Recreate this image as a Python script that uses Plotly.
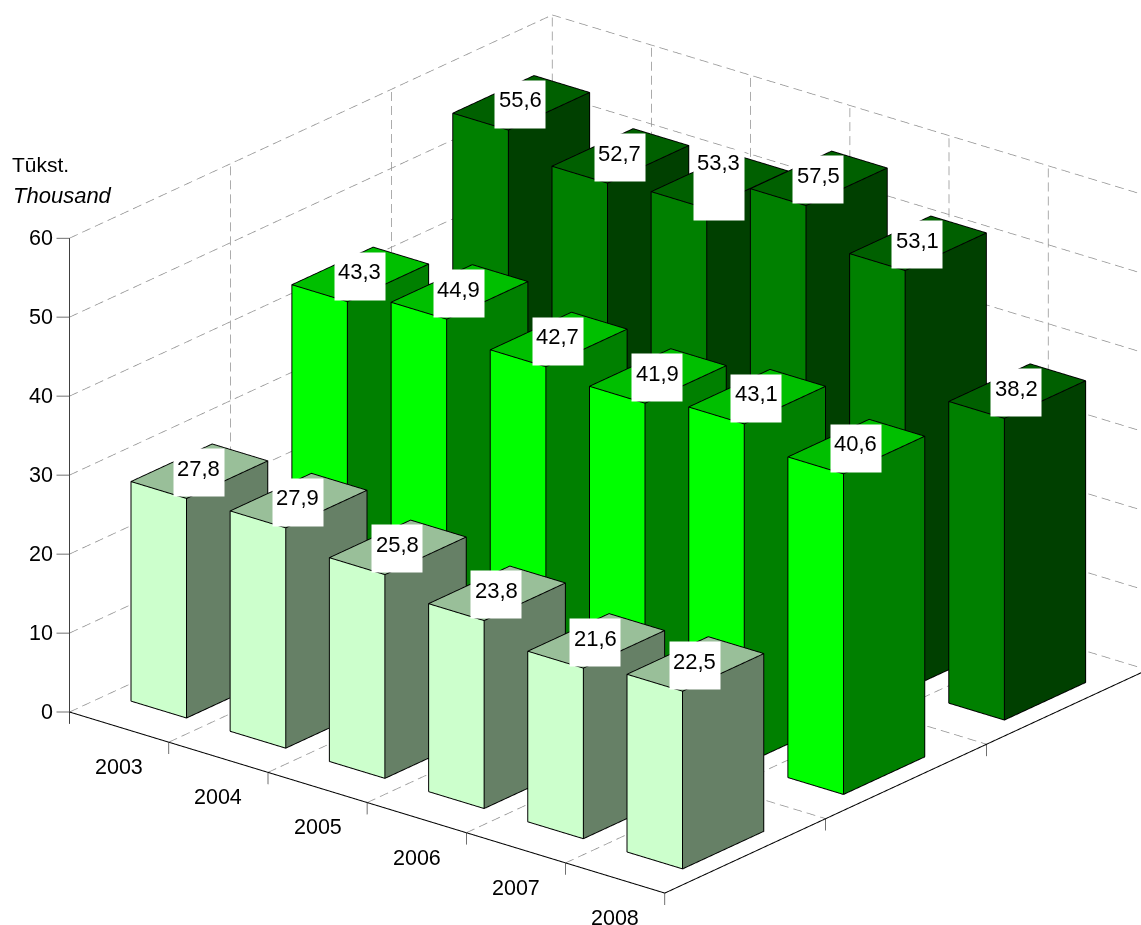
import math
import plotly.graph_objects as go

YEARS = ["2003", "2004", "2005", "2006", "2007", "2008"]
LIGHT = [27.8, 27.9, 25.8, 23.8, 21.6, 22.5]
BRIGHT = [43.3, 44.9, 42.7, 41.9, 43.1, 40.6]
DARK = [55.6, 52.7, 53.3, 57.5, 53.1, 38.2]
Y_TICKS = [0, 10, 20, 30, 40, 50, 60]

SERIES = [LIGHT, BRIGHT, DARK]
FACE_COLORS = [("#CCFFCC", "#668066", "#99BF99"),
               ("#00FF00", "#008000", "#00BF00"),
               ("#008000", "#004000", "#006000")]
W, H = 1141, 925
AZ = math.radians(39.04)
EL = math.radians(22.03)
K = 1.657
PX = 766.0/K       # pixels per scene unit
R = 1.5
EPS = 0.0025

dirv = (math.cos(EL)*math.sin(AZ), -math.cos(EL)*math.cos(AZ), math.sin(EL))
rgt = (math.cos(AZ), math.sin(AZ), 0)
upv = (-math.sin(EL)*math.sin(AZ), math.sin(EL)*math.cos(AZ), math.cos(EL))
SX, SY, SZ = K/6, K/3, K*0.667/60  # scene units per data unit

fig = go.Figure()

def line(xs, ys, zs, color, width):
    fig.add_trace(go.Scatter3d(x=xs, y=ys, z=zs, mode="lines", hoverinfo="skip",
                               line=dict(color=color, width=width)))

def screen_len(a, b):
    d = ((b[0]-a[0])*SX, (b[1]-a[1])*SY, (b[2]-a[2])*SZ)
    sx = sum(p*q for p, q in zip(d, rgt))
    sy = sum(p*q for p, q in zip(d, upv))
    return PX*math.hypot(sx, sy)

# dashed grid
DASH_ON, DASH_OFF = 9.0, 5.0
gx, gy, gz = [], [], []
def seg(a, b):
    total = screen_len(a, b)
    pos = 0.0
    while pos < total:
        t0, t1 = pos/total, min(pos+DASH_ON, total)/total
        for t in (t0, t1):
            gx.append(a[0]+(b[0]-a[0])*t); gy.append(a[1]+(b[1]-a[1])*t); gz.append(a[2]+(b[2]-a[2])*t)
        gx.append(None); gy.append(None); gz.append(None)
        pos += DASH_ON+DASH_OFF
for i in range(0, 7):
    if 0 < i < 6:
        seg((i, 0, 0), (i, 3, 0))
    seg((i, 3, 0), (i, 3, 60))
for j in range(0, 4):
    if j:
        seg((0, j, 0), (6, j, 0))
        seg((0, j, 0), (0, j, 60))
for v in Y_TICKS:
    seg((0, 0, v), (0, 3, v))
    seg((0, 3, v), (6, 3, v))
line(gx, gy, gz, "#909090", 1.5)

# axes
tl = 13/PX
line([0, 0], [0, 0], [-1.5, 60], "#404040", 2)
line([0, 6, 6], [0, 0, 3], [0, 0, 0], "#000000", 2)
tx, ty, tz = [], [], []
for v in Y_TICKS:
    tx += [0, -tl*rgt[0]/SX, None]; ty += [0, -tl*rgt[1]/SY, None]; tz += [v, v, None]
for i in range(1, 7):
    tx += [i, i, None]; ty += [0, 0, None]; tz += [0, -1.5, None]
for j in range(1, 3):
    tx += [6, 6, None]; ty += [j, j, None]; tz += [0, -1.5, None]
line(tx, ty, tz, "#404040", 1.5)

# bars
X0, X1, Y0, Y1 = 0.23, 0.79, 0.24, 0.745
for s, vals in enumerate(SERIES):
    px, py, pz, ii, jj, kk, fc = [], [], [], [], [], [], []
    ex, ey, ez = [], [], []
    o = (EPS*dirv[0]/SX, EPS*dirv[1]/SY, EPS*dirv[2]/SZ)
    for c, v in enumerate(vals):
        x0, x1, y0, y1 = c+X0, c+X1, s+Y0, s+Y1
        n = len(px)
        for (a, b, d) in [(x0, y0, 0), (x1, y0, 0), (x1, y1, 0), (x0, y1, 0),
                          (x0, y0, v), (x1, y0, v), (x1, y1, v), (x0, y1, v)]:
            px.append(a); py.append(b); pz.append(d)
        L, Rg, T = FACE_COLORS[s]
        for tri, col in [((0, 1, 5), L), ((0, 5, 4), L),
                         ((1, 2, 6), Rg), ((1, 6, 5), Rg),
                         ((4, 5, 6), T), ((4, 6, 7), T)]:
            ii.append(n+tri[0]); jj.append(n+tri[1]); kk.append(n+tri[2]); fc.append(col)
        for path in [(0, 1, 2, 6, 7, 4, 0), (1, 5, 4), (5, 6)]:
            for q in path:
                ex.append(px[n+q]+o[0]); ey.append(py[n+q]+o[1]); ez.append(pz[n+q]+o[2])
            ex.append(None); ey.append(None); ez.append(None)
    fig.add_trace(go.Mesh3d(x=px, y=py, z=pz, i=ii, j=jj, k=kk, facecolor=fc, flatshading=True,
                            hoverinfo="skip", showscale=False,
                            lighting=dict(ambient=1, diffuse=0, specular=0, fresnel=0, roughness=1)))
    line(ex, ey, ez, "#000000", 2)

# annotations
def font(size):
    return dict(family="Liberation Sans, Arial, sans-serif", size=size, color="#000000")
boxes, texts, ticks = [], [], []
for s, vals in enumerate(SERIES):
    for c, v in enumerate(vals):
        tall = (s == 2 and c == 2)   # the 53,3 box is taller in the source
        h, by, ty_ = (70, -4.5, 18) if tall else (47, -2.5, 2)
        boxes.append(dict(x=c+0.5, y=s+0.5, z=v, text="&nbsp;", showarrow=False, xshift=-1, yshift=by,
                          bgcolor="#FFFFFF", width=50, height=h, font=font(10), borderpad=0))
        texts.append(dict(x=c+0.5, y=s+0.5, z=v, text=f"{v:.1f}".replace(".", ","), showarrow=False,
                          xshift=-1, yshift=ty_, font=font(22)))
for c, t in enumerate(YEARS):
    ticks.append(dict(x=c+0.5, y=0, z=0, text=t, showarrow=False, yshift=-40, font=font(21.5)))
for v in Y_TICKS:
    ticks.append(dict(x=0, y=0, z=v, text=str(v), showarrow=False, xanchor="right", xshift=-15, font=font(21.5)))

cx = (-38/PX)*rgt[0] + (-8.5/PX)*upv[0]
cy = (-38/PX)*rgt[1] + (-8.5/PX)*upv[1]
cz = (-38/PX)*rgt[2] + (-8.5/PX)*upv[2]

fig.update_layout(
    width=W, height=H, margin=dict(l=0, r=0, t=0, b=0), showlegend=False,
    paper_bgcolor="#FFFFFF",
    annotations=[
        dict(xref="paper", yref="paper", x=10/W, y=1-165/H, xanchor="left", yanchor="middle", text="Tūkst.", showarrow=False, font=font(21)),
        dict(xref="paper", yref="paper", x=11/W, y=1-195/H, xanchor="left", yanchor="middle", text="<i>Thousand</i>", showarrow=False, font=font(22)),
    ],
    scene=dict(
        domain=dict(x=[0, 1], y=[0, 1]),
        xaxis=dict(visible=False, range=[-1, 7]),
        yaxis=dict(visible=False, range=[-1, 4]),
        zaxis=dict(visible=False, range=[-10, 70]),
        aspectmode="manual",
        aspectratio=dict(x=K*8/6, y=K*5/3, z=K*0.667*80/60),
        camera=dict(projection=dict(type="orthographic"),
                    up=dict(x=0, y=0, z=1),
                    center=dict(x=cx, y=cy, z=cz),
                    eye=dict(x=cx+R*dirv[0], y=cy+R*dirv[1], z=cz+R*dirv[2])),
        annotations=boxes+texts+ticks,
    ),
)
fig.write_html("out.html", config=dict(displayModeBar=False), post_script="document.body.style.margin='0';")
